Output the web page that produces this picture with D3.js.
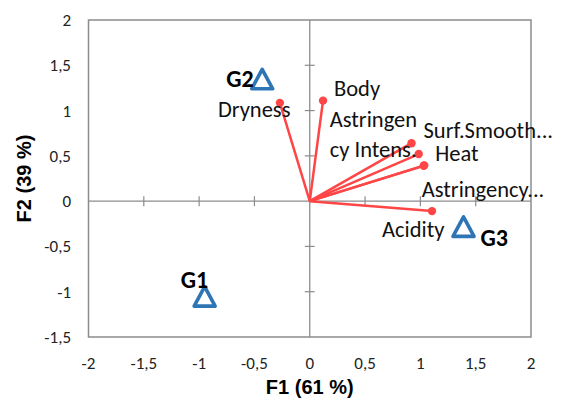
<!DOCTYPE html>
<html>
<head>
<meta charset="utf-8">
<script src="https://cdn.jsdelivr.net/npm/d3@7"></script>
<style>
  body { margin: 0; background: #fff; }
  svg text { font-family: Carlito, Calibri, Lato, sans-serif; }
</style>
</head>
<body>
<svg id="chart"></svg>
<script>
// chart values
const variables = ["Dryness", "Body", "Astringency Intens.", "Surf.Smooth...", "Heat", "Astringency...", "Acidity"];
const f1Loadings = [-0.27, 0.12, 0.985, 0.92, 1.035, 1.03, 1.105];
const f2Loadings = [1.085, 1.11, 0.52, 0.64, 0.395, 0.39, -0.11];

const groups = ["G1", "G2", "G3"];
const groupF1 = [-0.95, -0.43, 1.39];
const groupF2 = [-1.06, 1.34, -0.29];

const xTicks = [-2, -1.5, -1, -0.5, 0, 0.5, 1, 1.5, 2];
const yTicks = [-1.5, -1, -0.5, 0, 0.5, 1, 1.5, 2];
const xTitle = "F1 (61 %)";
const yTitle = "F2 (39 %)";

// label placement (pixels from the point)
const varLabelPos = {
  "Dryness": [[-62, 14]],
  "Body": [[11, -5]],
  "Astringency Intens.": [[-89, -27, "Astringen"], [-89, 3, "cy Intens."]],
  "Surf.Smooth...": [[12, -5]],
  "Heat": [[11, -4]],
  "Astringency...": [[-2, 31]],
  "Acidity": [[-50, 26]]
};
const groupLabelPos = { "G1": [-24, -9], "G2": [-36, 7], "G3": [17, 19] };

const width = 562, height = 403;
const svg = d3.select("#chart").attr("width", width).attr("height", height);

const x = d3.scaleLinear().domain([-2, 2]).range([88.5, 531]);
const y = d3.scaleLinear().domain([-1.5, 2]).range([337, 20]);

const fmt = v => String(v).replace(".", ",");
const axisGrey = "#8c8c8c";
const red = "#ff4646";
const blue = "#2e75b6";

// plot border
svg.append("rect")
  .attr("x", x(-2)).attr("y", y(2))
  .attr("width", x(2) - x(-2)).attr("height", y(-1.5) - y(2))
  .attr("fill", "none").attr("stroke", axisGrey).attr("stroke-width", 1.5);

// zero lines
svg.append("line")
  .attr("x1", x(-2)).attr("x2", x(2)).attr("y1", y(0)).attr("y2", y(0))
  .attr("stroke", axisGrey).attr("stroke-width", 1.3);
svg.append("line")
  .attr("x1", x(0)).attr("x2", x(0)).attr("y1", y(2)).attr("y2", y(-1.5))
  .attr("stroke", axisGrey).attr("stroke-width", 1.3);

// cross ticks on zero lines
svg.append("g").selectAll("line")
  .data(xTicks.filter(d => d > -2 && d < 2 && d !== 0))
  .join("line")
  .attr("x1", d => x(d)).attr("x2", d => x(d))
  .attr("y1", y(0) - 5).attr("y2", y(0) + 5)
  .attr("stroke", axisGrey).attr("stroke-width", 1.2);
svg.append("g").selectAll("line")
  .data(yTicks.filter(d => d > -1.5 && d < 2 && d !== 0))
  .join("line")
  .attr("y1", d => y(d)).attr("y2", d => y(d))
  .attr("x1", x(0) - 5).attr("x2", x(0) + 5)
  .attr("stroke", axisGrey).attr("stroke-width", 1.2);

// tick labels
svg.append("g").selectAll("text")
  .data(yTicks)
  .join("text")
  .attr("x", 71).attr("y", d => y(d))
  .attr("dy", "0.35em")
  .attr("text-anchor", "end")
  .attr("font-size", 17)
  .attr("fill", "#222")
  .text(fmt);
svg.append("g").selectAll("text")
  .data(xTicks)
  .join("text")
  .attr("x", d => x(d)).attr("y", 363)
  .attr("dy", "0.35em")
  .attr("text-anchor", "middle")
  .attr("font-size", 17)
  .attr("fill", "#222")
  .text(fmt);

// axis titles
svg.append("text")
  .attr("x", (x(-2) + x(2)) / 2).attr("y", 394)
  .attr("text-anchor", "middle")
  .style("font-family", "'Liberation Sans', Arial, sans-serif")
  .attr("font-weight", "bold").attr("font-size", 20)
  .text(xTitle);
svg.append("text")
  .attr("transform", `translate(31, ${(y(2) + y(-1.5)) / 2}) rotate(-90)`)
  .attr("text-anchor", "middle")
  .style("font-family", "'Liberation Sans', Arial, sans-serif")
  .attr("font-weight", "bold").attr("font-size", 20)
  .text(yTitle);

// loading vectors
const loadings = variables.map((v, i) => ({ name: v, f1: f1Loadings[i], f2: f2Loadings[i] }));

svg.append("g").selectAll("line")
  .data(loadings)
  .join("line")
  .attr("x1", x(0)).attr("y1", y(0))
  .attr("x2", d => x(d.f1)).attr("y2", d => y(d.f2))
  .attr("stroke", red).attr("stroke-width", 2.5);

svg.append("g").selectAll("circle")
  .data(loadings)
  .join("circle")
  .attr("cx", d => x(d.f1)).attr("cy", d => y(d.f2))
  .attr("r", 4.2)
  .attr("fill", red);

const varLabels = svg.append("g");
loadings.forEach(d => {
  varLabelPos[d.name].forEach(p => {
    varLabels.append("text")
      .attr("x", x(d.f1) + p[0]).attr("y", y(d.f2) + p[1])
      .attr("font-size", 22.5)
      .attr("fill", "#111")
      .text(p[2] || d.name);
  });
});

// group centroids
const groupData = groups.map((g, i) => ({ name: g, f1: groupF1[i], f2: groupF2[i] }));
const tri = "M0,-10.5 L10.5,9 L-10.5,9 Z";

svg.append("g").selectAll("path")
  .data(groupData)
  .join("path")
  .attr("transform", d => `translate(${x(d.f1)},${y(d.f2)})`)
  .attr("d", tri)
  .attr("fill", "none")
  .attr("stroke", blue)
  .attr("stroke-width", 3.6)
  .attr("stroke-linejoin", "round");

svg.append("g").selectAll("text")
  .data(groupData)
  .join("text")
  .attr("x", d => x(d.f1) + groupLabelPos[d.name][0])
  .attr("y", d => y(d.f2) + groupLabelPos[d.name][1])
  .attr("font-size", 24)
  .attr("font-weight", "bold")
  .attr("fill", "#000")
  .text(d => d.name);
</script>
</body>
</html>
